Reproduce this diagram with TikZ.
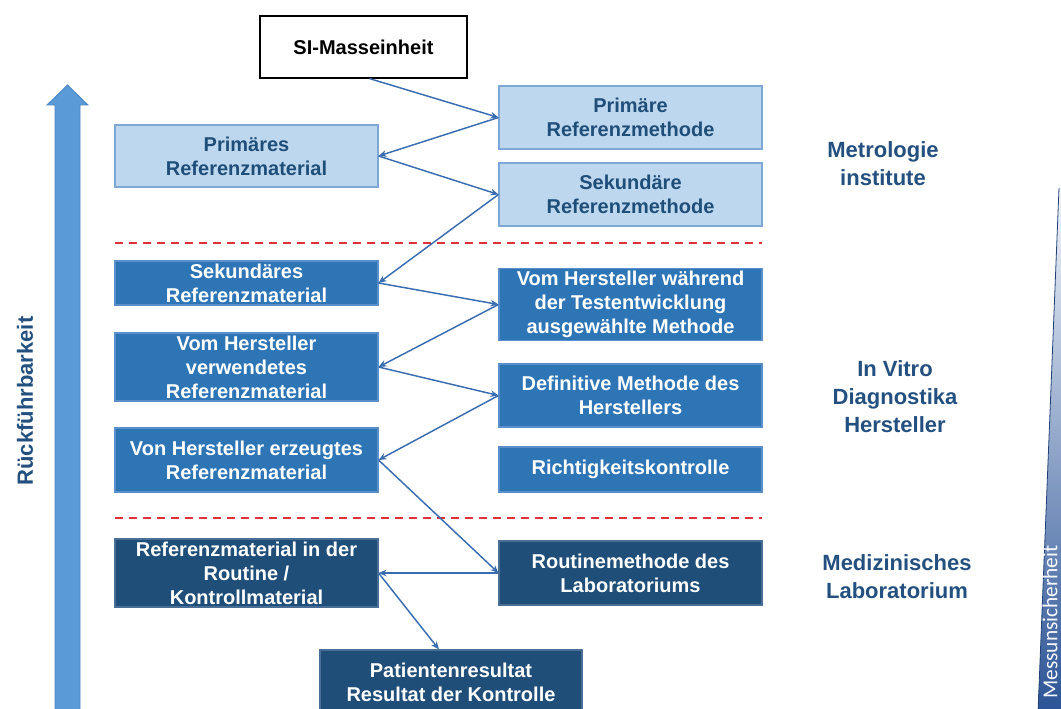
\documentclass[tikz,border=0pt]{standalone}
\usepackage{fontspec}
\setmainfont{Liberation Sans}
\newfontfamily\calib{Carlito}
\usetikzlibrary{arrows.meta,calc}
\definecolor{lightfill}{HTML}{BDD7EE}
\definecolor{lightdraw}{HTML}{7FA7D6}
\definecolor{medfill}{HTML}{2E75B6}
\definecolor{meddraw}{HTML}{5B8FCB}
\definecolor{darkfill}{HTML}{1F4E79}
\definecolor{darkdraw}{HTML}{4A6F96}
\definecolor{txtblue}{HTML}{1F4E79}
\definecolor{sideblue}{HTML}{24507F}
\definecolor{arrblue}{HTML}{3A6DB0}
\definecolor{bigarrow}{HTML}{5B9BD5}
\definecolor{bigarrowdraw}{HTML}{4A86C5}
\definecolor{redline}{HTML}{E0303A}
\definecolor{wedgetop}{HTML}{F2F6FB}
\definecolor{wedgemid}{HTML}{9DB6D9}
\definecolor{wedgebot}{HTML}{2B5395}
\tikzset{
  boxbase/.style={rectangle, align=center, inner sep=2pt, font=\bfseries\fontsize{15}{18}\selectfont},
  whitebox/.style={boxbase, draw=black, line width=0.9pt, fill=white, text=black},
  lightbox/.style={boxbase, draw=lightdraw, line width=0.8pt, fill=lightfill, text=txtblue},
  medbox/.style={boxbase, draw=meddraw, line width=0.8pt, fill=medfill, text=white},
  darkbox/.style={boxbase, draw=darkdraw, line width=0.8pt, fill=darkfill, text=white},
  wide/.style={minimum width=197.25pt},
  conn/.style={draw=arrblue, line width=1.1pt, -{Stealth[length=6pt,width=5pt]}},
  sep/.style={draw=redline, line width=1.4pt, dash pattern=on 6pt off 4.5pt},
  sidelabel/.style={align=center, text=sideblue, font=\bfseries\fontsize{16.5}{21}\selectfont}
}
\begin{document}
\begin{tikzpicture}[x=0.75pt,y=-0.75pt]
\useasboundingbox (0,0) rectangle (1061,709);
\clip (0,0) rectangle (1061,709);
% big left arrow
\filldraw[fill=bigarrow, draw=bigarrowdraw, line width=0.6pt]
  (55,712) -- (55,105) -- (47,105) -- (67.5,85) -- (88,105) -- (80,105) -- (80,712) -- cycle;
\node[rotate=90, text=sideblue, font=\bfseries\fontsize{16.5}{20}\selectfont] (rueck) at (25,401) {Rückführbarkeit};
% right wedge
\shade[top color=wedgetop, middle color=wedgemid, bottom color=wedgebot]
  (1059,188) -- (1038,712) -- (1064,712) -- (1064,188) -- cycle;
\draw[draw=wedgebot!80!black, line width=0.6pt] (1059,188) -- (1038,712);
\node[rotate=90, text=white!92!wedgemid, font=\calib\fontsize{16}{19}\selectfont] (mess) at (1050,622) {Messunsicherheit};
% separators
\coordinate (s1a) at (115,243); \coordinate (s1b) at (762,243);
\coordinate (s2a) at (115,518); \coordinate (s2b) at (762,518);
\draw[sep] (s1a) -- (s1b);
\draw[sep] (s2a) -- (s2b);
% boxes
\node[whitebox, minimum width=155.25pt, minimum height=46.5pt] (si) at (363.5,47) {SI-Masseinheit};
\node[lightbox, wide, minimum height=47.25pt] (prm) at (630.5,117.5) {Primäre\\Referenzmethode};
\node[lightbox, wide, minimum height=46.5pt] (prmat) at (246.5,156) {Primäres\\Referenzmaterial};
\node[lightbox, wide, minimum height=47.25pt] (srm) at (630.5,194.5) {Sekundäre\\Referenzmethode};
\node[medbox, wide, minimum height=33pt] (srmat) at (246.5,283) {Sekundäres\\Referenzmaterial};
\node[medbox, wide, minimum height=48.75pt] (vhw) at (630.5,304.5) {Vom Hersteller während\\der Testentwicklung\\ausgewählte Methode};
\node[medbox, wide, minimum height=48pt] (vhv) at (246.5,367) {Vom Hersteller\\verwendetes\\Referenzmaterial};
\node[medbox, wide, minimum height=47.25pt] (dmh) at (630.5,395.5) {Definitive Methode des\\Herstellers};
\node[medbox, wide, minimum height=48pt] (vhe) at (246.5,460) {Von Hersteller erzeugtes\\Referenzmaterial};
\node[medbox, wide, minimum height=33.75pt] (rk) at (630.5,469.5) {Richtigkeitskontrolle};
\node[darkbox, wide, minimum height=48pt] (rmr) at (246.5,573) {Referenzmaterial in der\\Routine /\\Kontrollmaterial};
\node[darkbox, wide, minimum height=48pt] (rml) at (630.5,573) {Routinemethode des\\Laboratoriums};
\node[darkbox, minimum width=196.5pt, minimum height=48pt] (pat) at (451,682) {Patientenresultat\\Resultat der Kontrolle};
% side labels
\node[sidelabel] (metro) at (883,164) {Metrologie\\institute};
\node[sidelabel] (ivd) at (895,397) {In Vitro\\Diagnostika\\Hersteller};
\node[sidelabel] (medlab) at (897,577) {Medizinisches\\Laboratorium};
% connectors
\draw[conn] ($(si.south)+(6,0)$) -- (prm.west);
\draw[conn] (prm.west) -- (prmat.east);
\draw[conn] (prmat.east) -- (srm.west);
\draw[conn] (srm.west) -- (srmat.east);
\draw[conn] (srmat.east) -- (vhw.west);
\draw[conn] (vhw.west) -- (vhv.east);
\draw[conn] (vhv.east) -- (dmh.west);
\draw[conn] (dmh.west) -- (vhe.east);
\draw[conn] (vhe.east) -- (rml.west);
\draw[conn] (rml.west) -- (rmr.east);
\draw[conn] (rmr.east) -- ($(pat.north)+(-12,0)$);
\end{tikzpicture}
\end{document}
